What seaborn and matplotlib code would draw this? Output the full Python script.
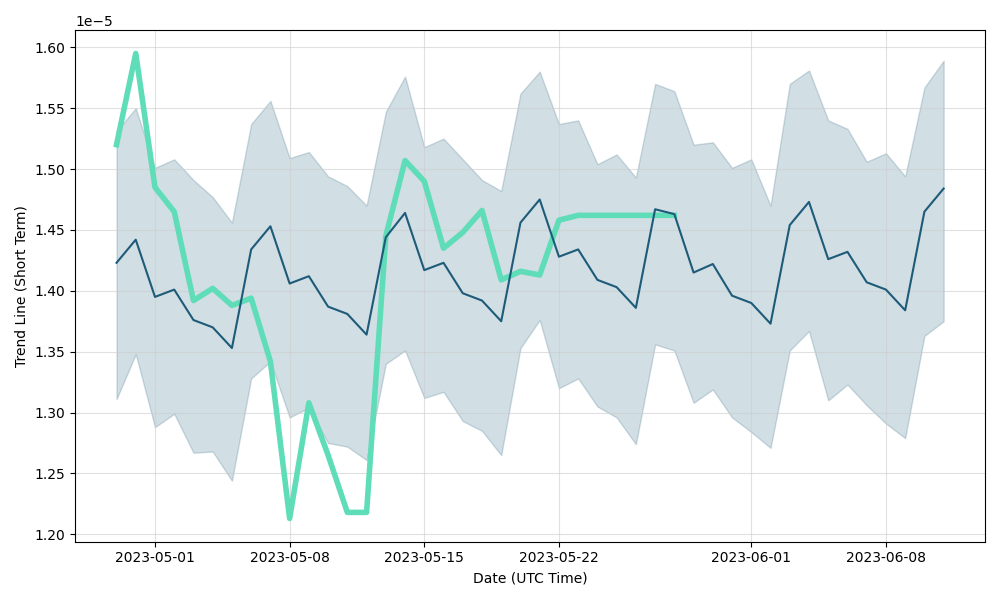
import pandas as pd
import numpy as np
import matplotlib
matplotlib.use("Agg")
import matplotlib.pyplot as plt
import seaborn as sns

# daily dates 2023-04-29 .. 2023-06-11
dates = pd.date_range("2023-04-29", "2023-06-11", freq="D")

trend = [1.423, 1.442, 1.395, 1.401, 1.376, 1.370, 1.353, 1.434, 1.453, 1.406,
         1.412, 1.387, 1.381, 1.364, 1.444, 1.464, 1.417, 1.423, 1.398, 1.392,
         1.375, 1.456, 1.475, 1.428, 1.434, 1.409, 1.403, 1.386, 1.467, 1.463,
         1.415, 1.422, 1.396, 1.390, 1.373, 1.454, 1.473, 1.426, 1.432, 1.407,
         1.401, 1.384, 1.465, 1.484]

upper = [1.531, 1.550, 1.501, 1.508, 1.491, 1.477, 1.456, 1.537, 1.556, 1.509,
         1.514, 1.494, 1.486, 1.470, 1.547, 1.576, 1.518, 1.525, 1.508, 1.491,
         1.482, 1.562, 1.580, 1.537, 1.540, 1.504, 1.512, 1.493, 1.570, 1.564,
         1.520, 1.522, 1.501, 1.508, 1.470, 1.570, 1.581, 1.540, 1.533, 1.506,
         1.513, 1.494, 1.567, 1.589]

lower = [1.311, 1.348, 1.288, 1.299, 1.267, 1.268, 1.244, 1.328, 1.342, 1.296,
         1.304, 1.275, 1.272, 1.261, 1.340, 1.351, 1.312, 1.317, 1.293, 1.285,
         1.265, 1.353, 1.376, 1.320, 1.328, 1.305, 1.296, 1.274, 1.356, 1.351,
         1.308, 1.319, 1.296, 1.284, 1.271, 1.351, 1.367, 1.310, 1.323, 1.306,
         1.291, 1.279, 1.363, 1.375]

price = [1.520, 1.595, 1.485, 1.465, 1.392, 1.402, 1.388, 1.394, 1.342, 1.213,
         1.308, 1.265, 1.218, 1.218, 1.445, 1.507, 1.490, 1.435, 1.448, 1.466,
         1.409, 1.416, 1.413, 1.458, 1.462, 1.462, 1.462, 1.462, 1.462, 1.462]

df = pd.DataFrame({
    "date": dates,
    "trend": np.array(trend) * 1e-5,
    "upper": np.array(upper) * 1e-5,
    "lower": np.array(lower) * 1e-5,
})
df_price = pd.DataFrame({"date": dates[:len(price)], "price": np.array(price) * 1e-5})

dark = "#1d5b79"
green = "#5fdcb8"

fig, ax = plt.subplots(figsize=(10, 6))
ax.fill_between(df.date, df.lower, df.upper, color=dark, alpha=0.2)
sns.lineplot(data=df_price, x="date", y="price", color=green, linewidth=4, ax=ax)
sns.lineplot(data=df, x="date", y="trend", color=dark, linewidth=1.5, ax=ax)

ax.grid(True, color="#cccccc", alpha=0.6)
ax.set_xlabel("Date (UTC Time)")
ax.set_ylabel("Trend Line (Short Term)")

plt.tight_layout()
plt.savefig("out.png", dpi=100)
plt.close()
